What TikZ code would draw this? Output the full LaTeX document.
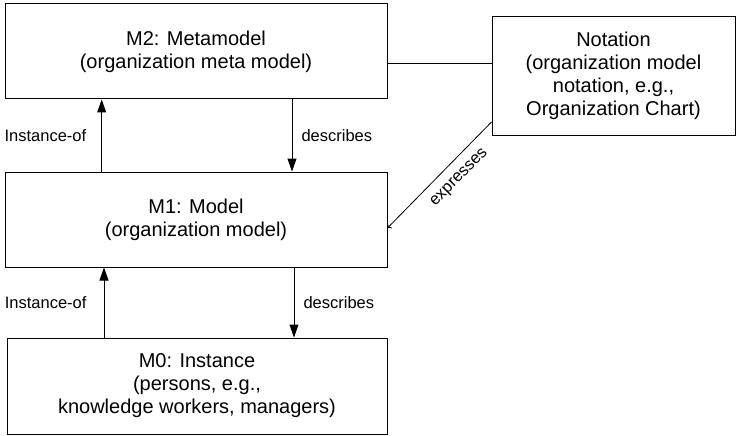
\documentclass[tikz,border=0pt]{standalone}
\usepackage{fontspec}
\setmainfont{Liberation Sans}
\usetikzlibrary{arrows.meta}
\begin{document}
\begin{tikzpicture}[x=1pt,y=-1pt,
  box/.style={draw=black, line width=1pt, align=center, inner sep=0pt,
    font=\fontsize{20}{23}\selectfont},
  lbl/.style={inner sep=0pt, font=\fontsize{16.5}{19}\selectfont},
  arr/.style={line width=1pt, -{Triangle[length=13pt,width=9pt]}},
  thinarr/.style={line width=0.8pt, -{Stealth[length=9pt,width=7pt,inset=1.5pt]}},
  conn/.style={line width=1pt}]
\useasboundingbox (0,0) rectangle (737,436);
\node[box, minimum width=382pt, minimum height=95pt] (M2) at (196,51.5)
  {M2: Metamodel\\(organization meta model)};
\node[box, minimum width=243pt, minimum height=118pt] (N) at (613.5,76)
  {Notation\\(organization model\\notation, e.g.,\\Organization Chart)};
\node[box, minimum width=382pt, minimum height=95pt] (M1) at (196,219.5)
  {M1: Model\\(organization model)};
\node[box, minimum width=380pt, minimum height=96pt] (M0) at (197,386)
  {M0: Instance\\(persons, e.g.,\\knowledge workers, managers)};
\draw[conn] ([yshift=-12.5pt]M2.east) -- ([yshift=12pt]N.west);
\draw[arr] ([xshift=-94.3pt]M1.north) -- ([xshift=-94.3pt]M2.south)
  node[lbl, midway, left=15pt] {Instance-of};
\draw[arr] ([xshift=96pt]M2.south) -- ([xshift=96pt]M1.north)
  node[lbl, midway, right=9pt] {describes};
\draw[arr] ([xshift=-93pt]M0.north) -- ([xshift=-92pt]M1.south)
  node[lbl, midway, left=17pt] {Instance-of};
\draw[arr] ([xshift=98pt]M1.south) -- ([xshift=97pt]M0.north)
  node[lbl, midway, right=9pt] {describes};
\draw[thinarr, <-] ([yshift=-8.5pt]M1.east) -- ([yshift=-46pt]N.west)
  node[lbl, pos=0.58, sloped, below=10pt] {expresses};
\end{tikzpicture}
\end{document}
